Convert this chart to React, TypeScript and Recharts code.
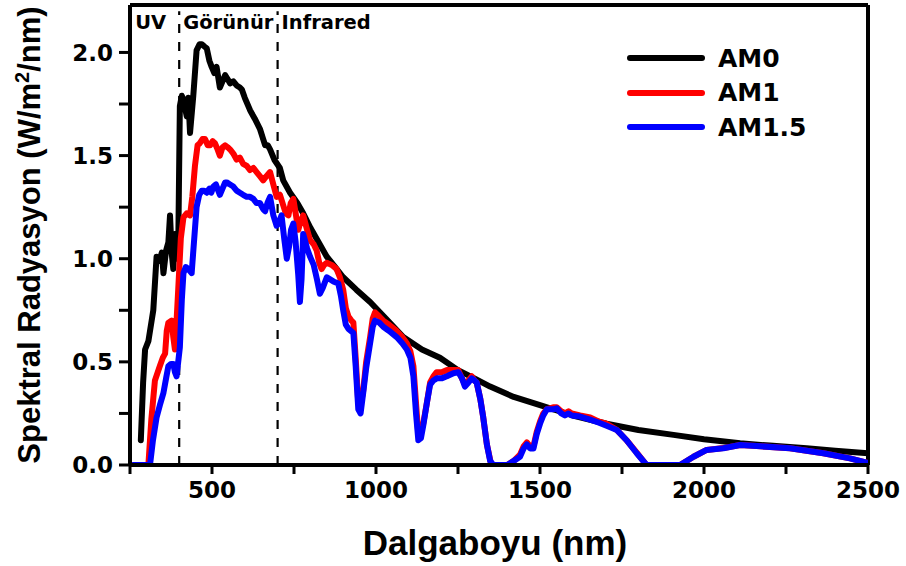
import { LineChart, Line, XAxis, YAxis, ReferenceLine } from 'recharts';

// Wavelengths (nm) and spectral irradiance (W/m²/nm)
const am0Wavelength = [
  283, 290, 296, 306, 316, 321, 331, 340, 347, 352, 360, 367, 372, 377, 382, 387, 392, 397, 402, 408,
  413, 423, 428, 433, 443, 453, 462, 469, 476, 484, 492, 499, 507, 514, 524, 532, 540, 548, 555, 565,
  575, 585, 591, 600, 616, 630, 646, 656, 662, 670, 677, 690, 707, 717, 738, 760, 778, 800, 825, 850,
  875, 900, 940, 982, 1030, 1083, 1140, 1195, 1250, 1300, 1348, 1420, 1500, 1600, 1703, 1800, 1907,
  2000, 2110, 2200, 2313, 2400, 2500,
];
const am0Irradiance = [
  0.12, 0.4, 0.56, 0.6, 0.7, 0.75, 1.01, 0.99, 1.03, 0.93, 1.04, 1.08, 1.21, 1.03, 0.95, 1.12, 1.0, 1.05, 1.74, 1.79,
  1.77, 1.69, 1.78, 1.61, 1.79, 2.01, 2.04, 2.04, 2.03, 2.02, 1.96, 1.93, 1.9, 1.93, 1.83, 1.86, 1.89, 1.87, 1.85, 1.86,
  1.84, 1.83, 1.82, 1.78, 1.72, 1.68, 1.63, 1.58, 1.55, 1.55, 1.53, 1.48, 1.44, 1.38, 1.32, 1.27, 1.22, 1.15, 1.08, 1.01,
  0.96, 0.91, 0.85, 0.79, 0.71, 0.62, 0.56, 0.52, 0.46, 0.42, 0.38, 0.33, 0.29, 0.24, 0.2, 0.17, 0.146,
  0.125, 0.105, 0.094, 0.081, 0.069, 0.057,
];

const am1Wavelength = [
  260, 306, 315, 326, 341, 350, 357, 362, 367, 377, 382, 387, 392, 397, 405, 413, 423, 433, 440, 448,
  456, 463, 471, 479, 487, 494, 502, 509, 517, 524, 532, 540, 548, 555, 565, 575, 585, 595, 606, 616,
  626, 636, 646, 656, 666, 677, 687, 697, 707, 717, 725, 733, 740, 748, 755, 763, 770, 778, 790, 799,
  810, 819, 827, 834, 842, 850, 865, 880, 890, 900, 908, 916, 925, 931, 938, 946, 953, 961, 970, 982,
  990, 997, 1010, 1022, 1040, 1063, 1080, 1094, 1105, 1114, 1122, 1129, 1137, 1144, 1155, 1165, 1175, 1185, 1200, 1216,
  1236, 1251, 1262, 1271, 1282, 1292, 1300, 1307, 1318, 1327, 1338, 1350, 1358, 1400, 1420, 1439, 1450, 1460, 1470, 1480,
  1490, 1500, 1510, 1521, 1540, 1551, 1565, 1576, 1587, 1597, 1622, 1653, 1680, 1703, 1734, 1764, 1795, 1825, 1927, 1968,
  2008, 2059, 2110, 2161, 2262, 2364, 2445, 2496,
];
const am1Irradiance = [
  0, 0, 0.22, 0.41, 0.48, 0.52, 0.54, 0.65, 0.69, 0.7, 0.62, 0.56, 0.7, 0.85, 1.1, 1.2, 1.22, 1.21, 1.3, 1.45,
  1.55, 1.56, 1.58, 1.58, 1.55, 1.55, 1.57, 1.56, 1.53, 1.5, 1.54, 1.55, 1.54, 1.53, 1.51, 1.48, 1.49, 1.46, 1.45, 1.43,
  1.44, 1.42, 1.4, 1.38, 1.4, 1.42, 1.36, 1.3, 1.31, 1.26, 1.22, 1.21, 1.27, 1.29, 1.22, 1.14, 1.18, 1.21, 1.14, 1.09,
  1.07, 1.04, 0.98, 0.95, 0.97, 0.98, 0.97, 0.95, 0.91, 0.85, 0.76, 0.72, 0.7, 0.69, 0.52, 0.3, 0.29, 0.36, 0.5, 0.62,
  0.71, 0.74, 0.72, 0.7, 0.68, 0.65, 0.62, 0.59, 0.55, 0.48, 0.3, 0.15, 0.16, 0.2, 0.3, 0.4, 0.43, 0.45, 0.45, 0.46,
  0.46, 0.46, 0.42, 0.39, 0.41, 0.43, 0.41, 0.4, 0.32, 0.23, 0.1, 0.01, 0, 0, 0.02, 0.05, 0.09, 0.11, 0.09, 0.09,
  0.16, 0.21, 0.25, 0.27, 0.28, 0.28, 0.26, 0.25, 0.26, 0.25, 0.24, 0.23, 0.21, 0.2, 0.17, 0.12, 0.06, 0, 0, 0.04,
  0.073, 0.082, 0.097, 0.092, 0.081, 0.057, 0.032, 0.011,
];

const am15Wavelength = [
  260, 311, 320, 331, 341, 352, 360, 367, 375, 382, 387, 392, 397, 402, 408, 413, 420, 428, 433, 438,
  445, 453, 461, 469, 476, 484, 492, 498, 504, 512, 519, 524, 532, 540, 545, 555, 565, 575, 585, 595,
  606, 616, 626, 636, 646, 656, 662, 669, 677, 687, 697, 705, 712, 720, 728, 735, 741, 748, 755, 763,
  768, 773, 778, 790, 799, 810, 820, 829, 838, 850, 870, 885, 893, 900, 908, 916, 931, 938, 946, 953,
  961, 970, 982, 990, 997, 1010, 1022, 1040, 1063, 1080, 1094, 1105, 1114, 1122, 1129, 1137, 1144, 1155, 1165, 1175,
  1185, 1200, 1216, 1236, 1251, 1262, 1271, 1282, 1292, 1300, 1307, 1318, 1327, 1338, 1348, 1358, 1400, 1420, 1439, 1450,
  1460, 1470, 1480, 1490, 1500, 1510, 1521, 1540, 1551, 1565, 1576, 1587, 1597, 1622, 1653, 1680, 1703, 1734, 1764, 1795,
  1825, 1927, 1968, 2008, 2059, 2110, 2161, 2262, 2364, 2445, 2496,
];
const am15Irradiance = [
  0, 0, 0.12, 0.23, 0.29, 0.35, 0.42, 0.48, 0.49, 0.49, 0.45, 0.43, 0.5, 0.57, 0.8, 0.93, 0.96, 0.95, 0.94, 0.93,
  1.08, 1.25, 1.31, 1.33, 1.33, 1.32, 1.34, 1.32, 1.35, 1.36, 1.33, 1.31, 1.34, 1.37, 1.37, 1.36, 1.35, 1.33, 1.32, 1.31,
  1.3, 1.3, 1.29, 1.27, 1.27, 1.24, 1.23, 1.27, 1.3, 1.21, 1.16, 1.18, 1.21, 1.1, 1.0, 1.06, 1.14, 1.17, 1.08, 0.92,
  0.79, 0.9, 1.12, 1.05, 1.01, 0.97, 0.9, 0.83, 0.86, 0.91, 0.89, 0.88, 0.82, 0.75, 0.68, 0.66, 0.64, 0.48, 0.27, 0.25,
  0.35, 0.47, 0.59, 0.67, 0.7, 0.69, 0.67, 0.65, 0.62, 0.59, 0.56, 0.52, 0.43, 0.25, 0.12, 0.13, 0.19, 0.3, 0.39, 0.41,
  0.42, 0.42, 0.43, 0.445, 0.45, 0.42, 0.38, 0.4, 0.42, 0.41, 0.4, 0.32, 0.23, 0.1, 0.02, 0, 0, 0.02, 0.04, 0.08,
  0.1, 0.08, 0.08, 0.15, 0.2, 0.24, 0.27, 0.27, 0.275, 0.25, 0.24, 0.25, 0.24, 0.235, 0.22, 0.205, 0.19, 0.17, 0.12, 0.057,
  0, 0, 0.04, 0.073, 0.081, 0.097, 0.092, 0.081, 0.057, 0.032, 0.011,
];

const xTicks = [250, 500, 750, 1000, 1250, 1500, 1750, 2000, 2250, 2500];
const xTickLabels = [500, 1000, 1500, 2000, 2500];
const yTicks = [0, 0.25, 0.5, 0.75, 1, 1.25, 1.5, 1.75, 2];
const yTickLabels = [0, 0.5, 1, 1.5, 2];

const X_MIN = 250;
const X_MAX = 2500;
const Y_MAX = 2.23;

const toPoints = (wl: number[], val: number[]) => wl.map((x, i) => ({ x, y: val[i] }));

const SERIES = [
  { name: 'AM0', color: '#000000', data: toPoints(am0Wavelength, am0Irradiance) },
  { name: 'AM1', color: '#ff0000', data: toPoints(am1Wavelength, am1Irradiance) },
  { name: 'AM1.5', color: '#0000ff', data: toPoints(am15Wavelength, am15Irradiance) },
];

const TICK_FONT = { fontFamily: 'DejaVu Sans', fontWeight: 'bold', fontSize: 23, fill: '#000' };
const AXIS_LINE = { stroke: '#000', strokeWidth: 4 };
const TICK_LINE = { stroke: '#000', strokeWidth: 3 };

const regionLabel = { fontFamily: 'DejaVu Sans', fontWeight: 'bold', fontSize: 19.5, fill: '#000' };

function ChartLegend() {
  return (
    <div
      style={{
        position: 'absolute',
        top: 41,
        left: 626,
        fontFamily: 'DejaVu Sans',
        fontWeight: 'bold',
        fontSize: 25,
        color: '#000',
      }}
    >
      {SERIES.map((s) => (
        <div key={s.name} style={{ display: 'flex', alignItems: 'center', height: 34.5 }}>
          <svg width={80} height={10}>
            <line x1={4} y1={5} x2={76} y2={5} stroke={s.color} strokeWidth={6} strokeLinecap="round" />
          </svg>
          <span style={{ marginLeft: 12 }}>{s.name}</span>
        </div>
      ))}
    </div>
  );
}

export default function App() {
  return (
    <div style={{ position: 'absolute', left: 0, top: 0, width: 906, height: 566, background: '#fff' }}>
      <LineChart width={906} height={566} margin={{ top: 5, right: 38, bottom: 0, left: 0 }}>
        <XAxis
          type="number"
          dataKey="x"
          domain={[X_MIN, X_MAX]}
          ticks={xTicks}
          tickFormatter={(v: number) => (xTickLabels.includes(v) ? String(v) : '')}
          tick={TICK_FONT}
          tickSize={9}
          tickMargin={8}
          axisLine={AXIS_LINE}
          tickLine={TICK_LINE}
          height={101}
          allowDataOverflow
          label={{
            content: () => (
              <text x={495} y={555} textAnchor="middle" fontFamily="Liberation Sans, Arial" fontWeight="bold" fontSize={35} fill="#000">
                Dalgaboyu (nm)
              </text>
            ),
          }}
        />
        <YAxis
          type="number"
          domain={[0, Y_MAX]}
          ticks={yTicks}
          tickFormatter={(v: number) => (yTickLabels.includes(v) ? v.toFixed(1) : '')}
          tick={TICK_FONT}
          tickSize={11}
          tickMargin={6}
          axisLine={AXIS_LINE}
          tickLine={TICK_LINE}
          width={130}
          allowDataOverflow
          label={{
            content: () => (
              <text x={40} y={235} transform="rotate(-90, 40, 235)" textAnchor="middle" fontFamily="Liberation Sans, Arial" fontWeight="bold" fontSize={31} fill="#000">
                Spektral Radyasyon (W/m<tspan dy={-11} fontSize={20}>2</tspan><tspan dy={11}>/nm)</tspan>
              </text>
            ),
          }}
        />

        {/* frame: top and right borders */}
        <ReferenceLine y={Y_MAX} stroke="#000" strokeWidth={4} />
        <ReferenceLine x={X_MAX} stroke="#000" strokeWidth={4} />

        <ReferenceLine
          segment={[{ x: 400, y: 0 }, { x: 400, y: 2.2 }]}
          stroke="#000"
          strokeWidth={2.2}
          strokeDasharray="9 9"
          label={(props: any) => (
            <g>
              <text x={props.viewBox.x - 13} y={29} textAnchor="end" {...regionLabel}>UV</text>
              <text x={props.viewBox.x + 4} y={29} textAnchor="start" {...regionLabel}>Görünür</text>
            </g>
          )}
        />
        <ReferenceLine
          segment={[{ x: 700, y: 0 }, { x: 700, y: 2.2 }]}
          stroke="#000"
          strokeWidth={2.2}
          strokeDasharray="9 9"
          label={(props: any) => (
            <text x={props.viewBox.x + 4} y={29} textAnchor="start" {...regionLabel}>Infrared</text>
          )}
        />

        {SERIES.map((s) => (
          <Line
            key={s.name}
            data={s.data}
            dataKey="y"
            name={s.name}
            type="linear"
            stroke={s.color}
            strokeWidth={6}
            strokeLinejoin="round"
            strokeLinecap="round"
            dot={false}
            activeDot={false}
            isAnimationActive={false}
          />
        ))}
      </LineChart>
      <ChartLegend />
    </div>
  );
}
